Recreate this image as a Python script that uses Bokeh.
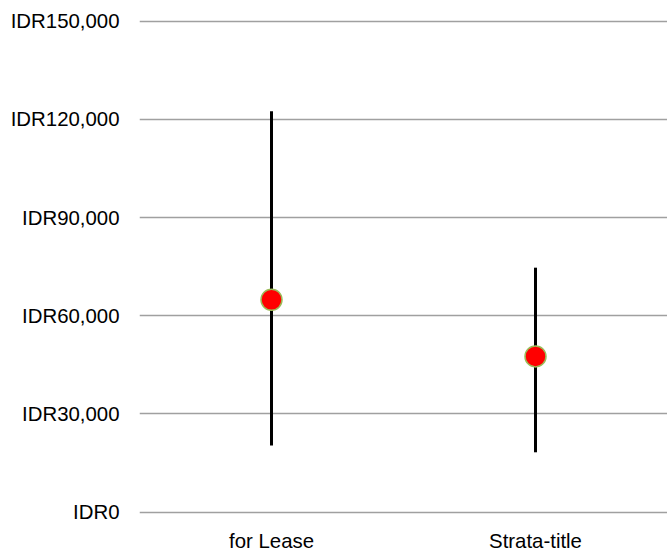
from bokeh.plotting import figure
from bokeh.models import ColumnDataSource, FixedTicker, Range1d
from bokeh.embed import file_html
from bokeh.resources import INLINE

# Price ranges per tenure type (IDR)
categories = ["for Lease", "Strata-title"]
high_values = [122500, 74700]
low_values = [20400, 18300]
mid_values = [64900, 47600]
y_ticks = [0, 30000, 60000, 90000, 120000, 150000]

src = ColumnDataSource(dict(cat=categories, high=high_values, low=low_values, mid=mid_values))

p = figure(
    x_range=categories,
    y_range=Range1d(-1314, 153269),
    width=667, height=554,
    output_backend="svg", toolbar_location=None,
    min_border_left=139, min_border_right=0,
    min_border_top=10, min_border_bottom=38,
)
p.outline_line_color = None
p.background_fill_color = "white"
p.border_fill_color = "white"

# high-low whiskers
p.segment(x0="cat", y0="low", x1="cat", y1="high", source=src,
          line_color="black", line_width=3)
# midpoint markers
p.scatter(x="cat", y="mid", source=src, size=21,
          fill_color="#ff0000", line_color="#9bbb59", line_width=1.5)

font = "Liberation Sans"
font_size = "20.4px"

p.yaxis.ticker = FixedTicker(ticks=y_ticks)
p.yaxis.major_label_overrides = {v: f"IDR{v:,}" for v in y_ticks}
p.yaxis.axis_line_color = None
p.yaxis.major_tick_line_color = None
p.yaxis.minor_tick_line_color = None
p.yaxis.major_label_standoff = 14
p.yaxis.major_label_text_font = font
p.yaxis.major_label_text_font_size = font_size
p.yaxis.major_label_text_color = "black"

p.xaxis.axis_line_color = None
p.xaxis.major_tick_line_color = None
p.xaxis.major_label_standoff = 7
p.xaxis.major_label_text_font = font
p.xaxis.major_label_text_font_size = font_size
p.xaxis.major_label_text_color = "black"

p.xgrid.grid_line_color = None
p.ygrid.grid_line_color = "#a0a0a0"
p.ygrid.grid_line_width = 1.3

open("out.html", "w").write(file_html(p, INLINE))
